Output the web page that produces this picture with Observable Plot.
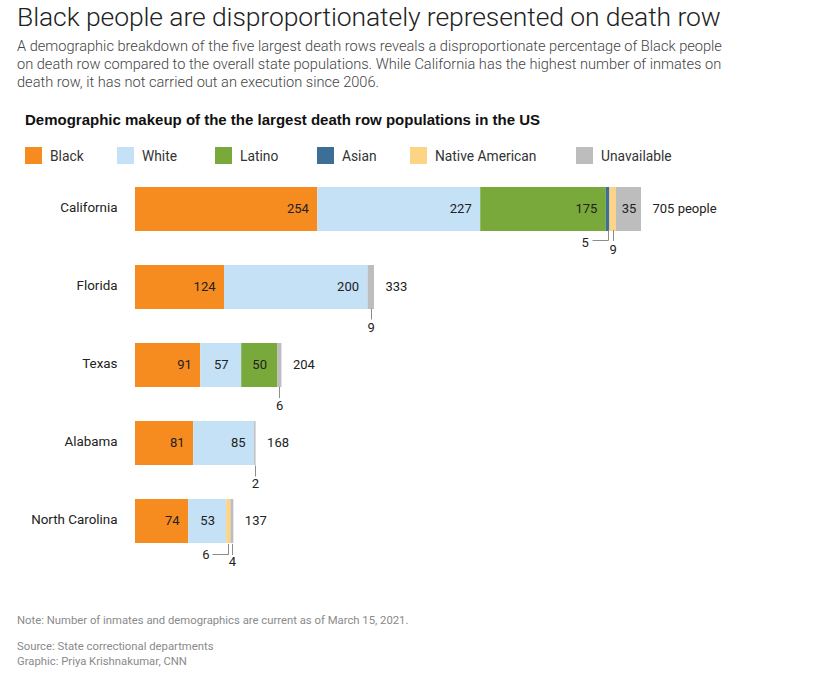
<!DOCTYPE html>
<html>
<head>
<meta charset="utf-8">
<script src="https://cdn.jsdelivr.net/npm/d3@7"></script>
<script src="https://cdn.jsdelivr.net/npm/@observablehq/plot@0.6"></script>
<style>
  html, body { margin: 0; padding: 0; background: #fff; }
  body { width: 821px; height: 679px; position: relative; overflow: hidden; font-family: Roboto, "Liberation Sans", sans-serif; }
  .abs { position: absolute; white-space: nowrap; }
  #title { left: 17px; top: 1px; font-size: 26.5px; font-weight: 300; color: #222; letter-spacing: -0.1px; }
  #subtitle { left: 17px; top: 37px; font-size: 14.6px; line-height: 18px; color: #444; font-weight: 300; white-space: normal; width: 790px; }
  #charttitle { left: 25px; top: 111px; font-size: 15px; font-weight: 700; color: #111; font-family: "Liberation Sans", Arial, sans-serif; }
  #legend { left: 25px; top: 147px; font-size: 13.8px; color: #333; }
  #legend .item { position: absolute; top: 0; height: 18px; line-height: 18px; }
  #legend .sw { display: inline-block; width: 17px; height: 17px; vertical-align: top; margin-right: 8px; }
  #chart { position: absolute; left: 0; top: 175px; line-height: 0; }
  #chart svg { display: block; }
  .foot { left: 17px; font-size: 11.3px; color: #8a8a8a; }
</style>
</head>
<body>
<div id="title" class="abs">Black people are disproportionately represented on death row</div>
<div id="subtitle" class="abs">A demographic breakdown of the five largest death rows reveals a disproportionate percentage of Black people<br>on death row compared to the overall state populations. While California has the highest number of inmates on<br>death row, it has not carried out an execution since 2006.</div>
<div id="charttitle" class="abs">Demographic makeup of the the largest death row populations in the US</div>
<div id="legend" class="abs"></div>
<div id="chart"></div>
<div class="abs foot" style="top:614px;">Note: Number of inmates and demographics are current as of March 15, 2021.</div>
<div class="abs foot" style="top:640px;">Source: State correctional departments</div>
<div class="abs foot" style="top:655px;">Graphic: Priya Krishnakumar, CNN</div>
<script>
// ---- data ----
const states = ["California", "Florida", "Texas", "Alabama", "North Carolina"];
const groups = ["Black", "White", "Latino", "Asian", "Native American", "Unavailable"];
const colors = ["#f68b20", "#c5e1f6", "#79a83b", "#3d6f96", "#fdd484", "#bdbdbd"];
const black = [254, 124, 91, 81, 74];
const white = [227, 200, 57, 85, 53];
const latino = [175, 0, 50, 0, 0];
const asian = [5, 0, 0, 0, 0];
const nativeAmerican = [9, 0, 0, 0, 6];
const unavailable = [35, 9, 6, 2, 4];
const legendOffsets = [0, 92, 190, 292, 385, 551];

const series = [black, white, latino, asian, nativeAmerican, unavailable];

// ---- legend ----
const legend = document.getElementById("legend");
groups.forEach((g, j) => {
  const it = document.createElement("div");
  it.className = "item";
  it.style.left = legendOffsets[j] + "px";
  it.innerHTML = `<span class="sw" style="background:${colors[j]}"></span>${g}`;
  legend.appendChild(it);
});

// ---- rows ----
const rows = [];
const totals = [];
states.forEach((s, i) => {
  let acc = 0;
  const segs = [];
  groups.forEach((g, j) => {
    const v = series[j][i];
    if (v > 0) {
      segs.push({state: s, group: g, value: v, x1: acc, x2: acc + v});
      acc += v;
    }
  });
  segs.forEach((d, k) => {
    d.small = d.value < 10;
    d.left = d.small && k + 1 < segs.length && segs[k + 1].value < 10;
    d.mid = (d.x1 + d.x2) / 2;
    rows.push(d);
  });
  totals.push({state: s, total: acc, label: i === 0 ? acc + " people" : String(acc)});
});

const big = rows.filter(d => d.value >= 60);
const medium = rows.filter(d => d.value >= 10 && d.value < 60);
const downCallouts = rows.filter(d => d.small && !d.left);
const leftCallouts = rows.filter(d => d.left);

const plot = Plot.plot({
  width: 821,
  height: 400,
  marginLeft: 135,
  marginRight: 180,
  marginTop: 0,
  marginBottom: 0,
  style: {fontFamily: "Roboto, 'Liberation Sans', sans-serif", fontSize: "13px", color: "#222", background: "transparent"},
  x: {domain: [0, d3.max(totals, d => d.total)], axis: null},
  y: {domain: states, range: [11, 369], paddingInner: 0.44, paddingOuter: 0, tickSize: 0, tickPadding: 18, label: null},
  color: {domain: groups, range: colors},
  marks: [
    Plot.barX(rows, {x1: "x1", x2: "x2", y: "state", fill: "group"}),
    Plot.axisY({tickSize: 0, tickPadding: 18, fontSize: 13.4, dy: -2}),
    Plot.text(big, {x: "x2", y: "state", text: d => String(d.value), textAnchor: "end", dx: -9, dy: -1, fill: "#222", fontSize: 13}),
    Plot.text(medium, {x: "mid", y: "state", text: d => String(d.value), textAnchor: "middle", dy: -1, fill: "#222", fontSize: 13}),
    Plot.text(totals, {x: "total", y: "state", text: "label", textAnchor: "start", dx: 11, dy: -1, fill: "#222", fontSize: 13}),
    Plot.text(downCallouts, {x: "mid", y: "state", text: d => String(d.value), textAnchor: "middle", dy: 40, fill: "#222", fontSize: 13}),
    Plot.text(leftCallouts, {x: "mid", y: "state", text: d => String(d.value), textAnchor: "middle", dx: -23, dy: 33, fill: "#222", fontSize: 13})
  ]
});
document.getElementById("chart").appendChild(plot);

// ---- leader lines, positioned through the plot's scales ----
const sx = plot.scale("x"), sy = plot.scale("y");
const X = sx.apply ? (v => sx.apply(v)) : d3.scaleLinear().domain(sx.domain).range(sx.range);
const yb = d3.scaleBand().domain(sy.domain).range(sy.range).paddingInner(sy.paddingInner ?? 0.44).paddingOuter(sy.paddingOuter ?? 0).align(sy.align ?? 0.5);
const Ybottom = s => yb(s) + yb.bandwidth();
const g = d3.select(plot).append("g").attr("fill", "none").attr("stroke", "#8c8c8c").attr("stroke-width", 1);
downCallouts.forEach(d => {
  const x = Math.round(X(d.mid)) + 0.5, y = Ybottom(d.state);
  g.append("path").attr("d", `M${x},${y}V${y + 11}`);
});
leftCallouts.forEach(d => {
  const x = Math.round(X(d.mid)) + 0.5, y = Ybottom(d.state);
  g.append("path").attr("d", `M${x},${y}V${Math.round(y + 10) + 0.5}H${x - 16}`);
});
</script>
</body>
</html>
